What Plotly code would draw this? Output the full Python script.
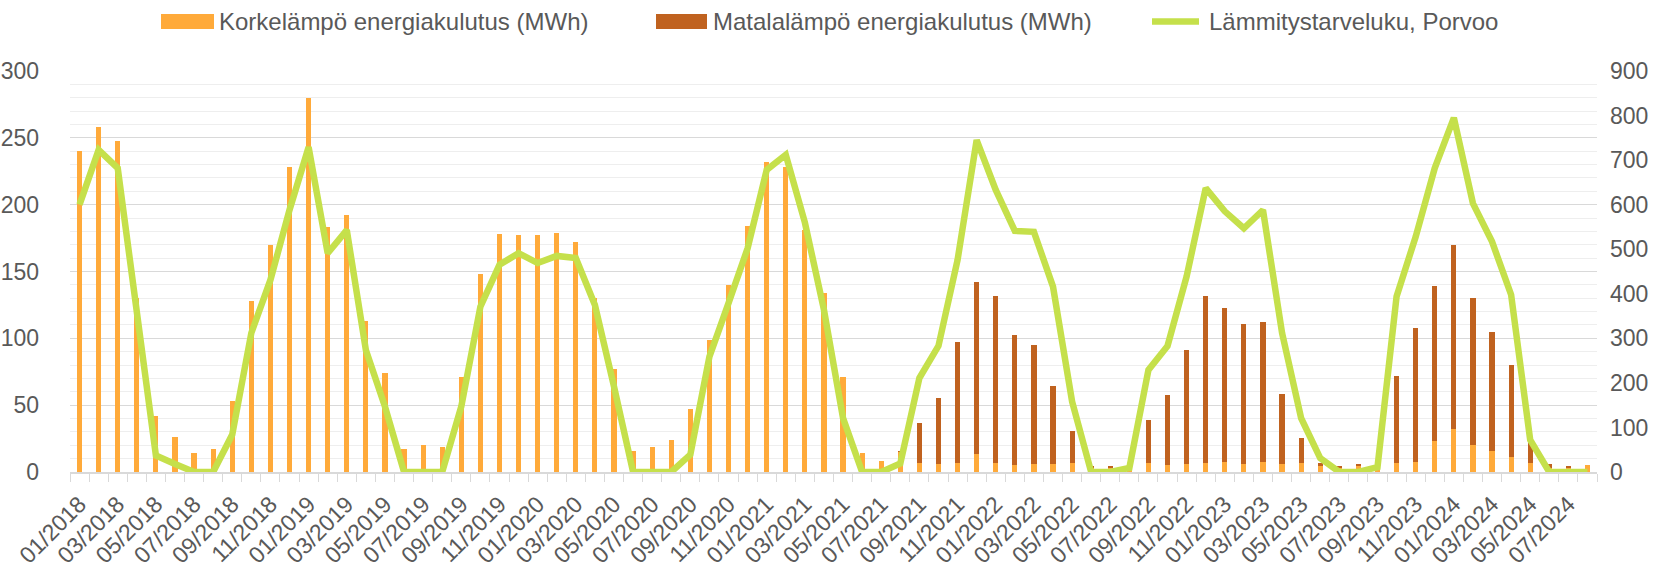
import plotly.graph_objects as go

# ---- data (monthly, 01/2018 .. 08/2024) ----
months = [f"{m:02d}/{y}" for y in range(2018, 2025) for m in range(1, 13)][:80]

korkea = [240, 258, 248, 130, 42, 26, 14, 17, 53, 128, 170, 228,
          280, 183, 192, 113, 74, 17, 20, 19, 71, 148, 178, 177,
          177, 179, 172, 130, 77, 16, 19, 24, 47, 99, 140, 184,
          232, 228, 181, 134, 71, 14, 8, 15, 7, 6, 7, 13.5,
          7, 5.5, 6, 6, 7, 3, 3.5, 2, 6.5, 5.5, 6, 6.5,
          7.5, 6, 7.5, 6, 6.5, 4.5, 3.5, 5, 2, 7, 7.5, 23.5,
          32.5, 20.5, 15.5, 11, 6.5, 3, 3.5, 5.5]

matala = [0, 0, 0, 0, 0, 0, 0, 0, 0, 0, 0, 0,
          0, 0, 0, 0, 0, 0, 0, 0, 0, 0, 0, 0,
          0, 0, 0, 0, 0, 0, 0, 0, 0, 0, 0, 0,
          0, 0, 0, 0, 0, 0, 0, 0.5, 30, 49, 90, 129,
          125, 96.7, 89, 58, 24, 1.5, 0.5, 1, 32.5, 52, 85, 125,
          115, 104.5, 105, 52.5, 19, 2.5, 0.3, 0.3, 0.5, 64.5, 100, 116,
          137, 110, 89, 69, 18.5, 2.7, 0.3, 0]

lammitystarveluku = [600, 723, 682, 360, 37, 18, 0, 0, 84, 312, 431, 588,
                     729, 491, 543, 274, 147, 0, 0, 0, 147, 371, 465, 491,
                     469, 485, 480, 375, 192, 0, 0, 0, 39, 259, 379, 502,
                     678, 712, 560, 364, 121, 0, 0, 19, 211, 283, 476, 745,
                     633, 541, 539, 416, 158, 0, 0, 9, 229, 283, 439, 637,
                     585, 547, 588, 312, 121, 31, 0, 0, 11, 394, 528, 682,
                     795, 603, 517, 398, 72, 0, 0, 0]

series_names = ["Korkelämpö energiakulutus (MWh)",
                "Matalalämpö energiakulutus (MWh)",
                "Lämmitystarveluku, Porvoo"]

tick_idx = list(range(0, 80, 2))
tick_text = [months[i] for i in tick_idx]

x = list(range(len(months)))

ORANGE = "#ffaa3a"
BROWN = "#c0621f"
GREEN = "#c5e04b"
TXT = "#595959"
FONT = "Liberation Sans, Arial, sans-serif"

W, H = 1660, 576
ML, MR, MT, MB = 70, 63, 71, 104
PW, PH = W - ML - MR, H - MT - MB


def px_x(p):
    return (p - ML) / PW


def px_y(p):
    return (H - MB - p) / PH


fig = go.Figure()
fig.add_trace(go.Bar(x=x, y=korkea, name=series_names[0],
                     marker=dict(color=ORANGE, line=dict(width=0)),
                     customdata=months, hovertemplate="%{customdata}: %{y}<extra></extra>"))
fig.add_trace(go.Bar(x=x, y=matala, name=series_names[1],
                     marker=dict(color=BROWN, line=dict(width=0)),
                     customdata=months, hovertemplate="%{customdata}: %{y}<extra></extra>"))
fig.add_trace(go.Scatter(x=x, y=lammitystarveluku, name=series_names[2],
                         mode="lines", yaxis="y2",
                         line=dict(color=GREEN, width=6.5, shape="linear"),
                         customdata=months, hovertemplate="%{customdata}: %{y}<extra></extra>"))

# legend drawn as swatches + text in the top margin
legend_items = [(161, 214, 217, ORANGE, "rect"),
                (656, 707, 711, BROWN, "rect"),
                (1149, 1202, 1207, GREEN, "line")]
shapes = []
annotations = []
LEG_Y = 21.5
for (x0, x1, tx, col, kind), name in zip(legend_items, series_names):
    if kind == "rect":
        shapes.append(dict(type="rect", xref="paper", yref="paper",
                           x0=px_x(x0), x1=px_x(x1), y0=px_y(LEG_Y + 7.5), y1=px_y(LEG_Y - 7.5),
                           fillcolor=col, line=dict(width=0), layer="above"))
    else:
        shapes.append(dict(type="line", xref="paper", yref="paper",
                           x0=px_x(x0 + 3), x1=px_x(x1 - 3), y0=px_y(LEG_Y), y1=px_y(LEG_Y),
                           line=dict(color=col, width=6.5), layer="above"))
    annotations.append(dict(text=name, xref="paper", yref="paper", x=px_x(tx), y=px_y(LEG_Y),
                            xanchor="left", yanchor="middle", showarrow=False,
                            font=dict(size=24, color=TXT, family=FONT)))

fig.update_layout(
    width=W, height=H,
    margin=dict(l=ML, r=MR, t=MT, b=MB, autoexpand=False),
    paper_bgcolor="white", plot_bgcolor="white",
    barmode="stack", bargap=0.73,
    font=dict(family=FONT, size=23, color=TXT),
    showlegend=False,
    shapes=shapes, annotations=annotations,
    xaxis=dict(
        range=[-0.5, 79.5], tickmode="array", tickvals=tick_idx, ticktext=tick_text,
        tickangle=-45, ticks="", showgrid=False, zeroline=False,
        showline=True, linecolor="#d9d9d9", linewidth=1.5,
        tickfont=dict(size=23, color=TXT), ticklabelstandoff=8,
        minor=dict(tick0=-0.5, dtick=1, ticks="outside", ticklen=8,
                   tickcolor="#d9d9d9", tickwidth=1.2, showgrid=False),
    ),
    yaxis=dict(
        range=[0, 300], dtick=50, tick0=0, showgrid=True, gridcolor="#d9d9d9", gridwidth=1.3,
        zeroline=False, showline=False, ticks="",
        tickfont=dict(size=23, color=TXT), ticklabelstandoff=30,
        minor=dict(dtick=10, tick0=0, showgrid=True, gridcolor="#eeeeee", gridwidth=1.3),
    ),
    yaxis2=dict(
        range=[0, 900], dtick=100, tick0=0, overlaying="y", side="right",
        showgrid=False, zeroline=False, showline=False, ticks="",
        tickfont=dict(size=23, color=TXT), ticklabelstandoff=12,
    ),
)

fig.write_html("out.html",
               config={"displayModeBar": False},
               post_script="document.body.style.margin='0';document.body.style.overflow='hidden';")
